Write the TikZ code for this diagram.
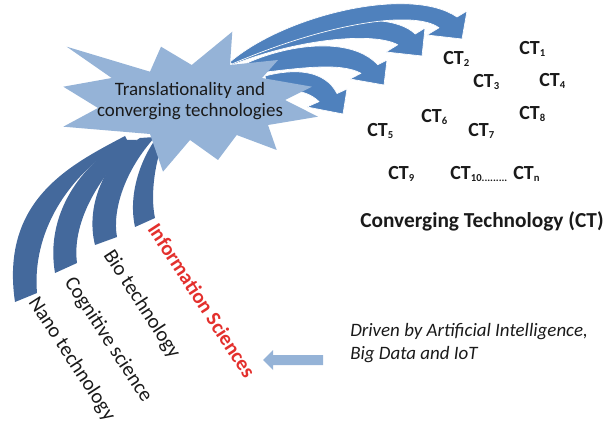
\documentclass[tikz,border=0pt]{standalone}
\usepackage{fontspec}
\setmainfont{Carlito}
\definecolor{bandblue}{HTML}{44699C}
\definecolor{arrowblue}{HTML}{4F81BD}
\definecolor{starblue}{HTML}{95B3D7}
\definecolor{infored}{HTML}{E3302D}
\definecolor{inkgray}{HTML}{1A1A1A}
\newcommand\ctsub[1]{\raisebox{-1.3pt}{\fontsize{8}{8}\selectfont\bfseries #1}}
\begin{document}
\begin{tikzpicture}[x=0.75pt,y=-0.75pt,
  band/.style={fill=bandblue,draw=none},
  rarrow/.style={fill=arrowblue,draw=white,line width=0.5pt,line join=round},
  starshape/.style={fill=starblue,draw=none},
  fieldlabel/.style={inner sep=0pt,anchor=base west,rotate=-57,text=inkgray,font=\fontsize{15.5}{18}\selectfont},
  ctlabel/.style={inner sep=0pt,anchor=base west,text=inkgray,font=\fontsize{15}{17}\selectfont\bfseries}]
\useasboundingbox (0,0) rectangle (609,427);

% curved bands feeding the star from the lower left
\path[band] (125,136) .. controls (70,165) and (0,200) .. (15,302) -- (37,293)
  .. controls (32,235) and (65,175) .. (127,140) -- cycle;
\path[band] (125,140) .. controls (80,165) and (45,215) .. (55,273) -- (77,263)
  .. controls (72,225) and (95,180) .. (137,140) -- cycle;
\path[band] (140,138) .. controls (105,160) and (85,205) .. (95,245) -- (117,237)
  .. controls (112,210) and (125,170) .. (155,137) -- cycle;
\path[band] (157,137) .. controls (140,160) and (128,195) .. (135,227) -- (155,218)
  .. controls (150,195) and (155,160) .. (165,137) -- cycle;

% curved block arrows towards the converging technologies (lowest first)
\path[rarrow] (265,76) .. controls (295,68) and (325,70) .. (337,93.5) -- (347,89) -- (343,114)
  -- (307,107) -- (319,101.6) .. controls (305,88) and (285,90) .. (268,90) -- cycle;
\path[rarrow] (245,64) .. controls (285,45) and (350,35) .. (377.75,64.75) -- (387,60) -- (384,85)
  -- (350,79) -- (361,73.3) .. controls (340,62) and (300,68) .. (250,74) -- cycle;
\path[rarrow] (230,62) .. controls (280,25) and (385,5) .. (415.25,34) -- (425,28) -- (422,56)
  -- (386,52) -- (397.7,44.8) .. controls (375,32) and (300,38) .. (232,65) -- cycle;
\path[rarrow] (230,62) .. controls (285,15) and (410,-15) .. (457,17) -- (467,11) -- (462,39)
  -- (427,35) -- (439,27.8) .. controls (415,10) and (330,22) .. (232,64) -- cycle;

% starburst
\path[starshape] (66.7,46.7) -- (150,71.7) -- (161,46.7) -- (191.7,65) -- (232.3,31.7)
  -- (230,65) -- (278,60) -- (262,78) -- (312,86.7) -- (285,100) -- (318,116.7)
  -- (268,125) -- (276.7,150) -- (236.7,135) -- (218,160) -- (190,140) -- (163,171.7)
  -- (150,134) -- (63.3,126.7) -- (98,108) -- (63.3,86.7) -- (111.7,78) -- cycle;
\node[text=inkgray,align=center,font=\fontsize{14.2}{16.25}\selectfont] (hub) at (190,101)
  {Translationality and\\converging technologies};

% field labels along the bands
\node[fieldlabel] (nano) at (28,302) {Nano technology};
\node[fieldlabel] (cog) at (64,282) {Cognitive science};
\node[fieldlabel] (bio) at (103,255) {Bio technology};
\node[fieldlabel,text=infored,font=\fontsize{15.5}{18}\selectfont\bfseries] (info) at (147,229) {Information Sciences};

% converging technologies
\node[ctlabel] (ct1) at (519,55) {CT\ctsub{1}};
\node[ctlabel] (ct2) at (443,65) {CT\ctsub{2}};
\node[ctlabel] (ct3) at (473,88) {CT\ctsub{3}};
\node[ctlabel] (ct4) at (539,87) {CT\ctsub{4}};
\node[ctlabel] (ct5) at (367,137) {CT\ctsub{5}};
\node[ctlabel] (ct6) at (421,123) {CT\ctsub{6}};
\node[ctlabel] (ct7) at (468,137) {CT\ctsub{7}};
\node[ctlabel] (ct8) at (519,120) {CT\ctsub{8}};
\node[ctlabel] (ct9) at (388,180) {CT\ctsub{9}};
\node[ctlabel] (ct10) at (450,180) {CT\ctsub{10.........}};
\node[ctlabel] (ctn) at (513,180) {CT\ctsub{n}};
\node[ctlabel,font=\fontsize{16}{18}\selectfont\bfseries] (cttitle) at (360,228) {Converging Technology (CT)};

% driver note with its pointer
\path[fill=starblue] (323,355) -- (273,355) -- (273,350) -- (263,360) -- (273,370)
  -- (273,365) -- (323,365) -- cycle;
\node[inner sep=0pt,anchor=base west,align=left,text=inkgray,
  font=\fontsize{14.2}{17.25}\selectfont\itshape] (driver) at (350,359)
  {Driven by Artificial Intelligence,\\Big Data and IoT};
\end{tikzpicture}
\end{document}
